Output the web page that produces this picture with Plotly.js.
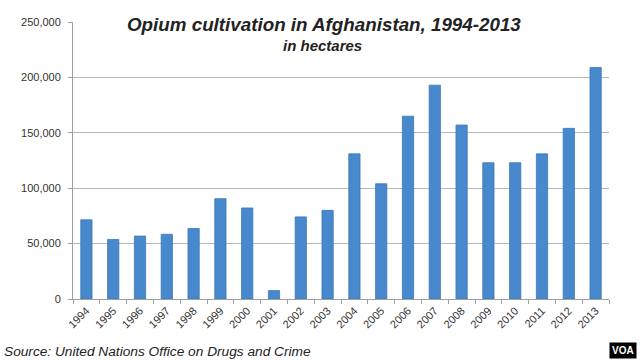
<!DOCTYPE html>
<html>
<head>
<meta charset="utf-8">
<script src="https://cdn.plot.ly/plotly-3.0.1.min.js"></script>
<style>html,body{margin:0;padding:0;background:#fff;}#chart{width:640px;height:360px;}</style>
</head>
<body>
<div id="chart"></div>
<script>
const years = ["1994","1995","1996","1997","1998","1999","2000","2001","2002","2003","2004","2005","2006","2007","2008","2009","2010","2011","2012","2013"];
const hectares = [71470,53759,56824,58416,63674,90583,82171,7606,74100,80000,131000,104000,165000,193000,157000,123000,123000,131000,154000,209000];
const yTickVals = [0,50000,100000,150000,200000,250000];
const yTickText = ["0","50,000","100,000","150,000","200,000","250,000"];

const trace = {
  type: "bar",
  x: years,
  y: hectares,
  marker: {
    color: "#4789cc",
    line: {color: "#3b78b8", width: 0.8}
  },
  hoverinfo: "x+y"
};

const layout = {
  width: 640, height: 360,
  margin: {l: 73, r: 31, t: 22, b: 61},
  paper_bgcolor: "#ffffff",
  plot_bgcolor: "#ffffff",
  showlegend: false,
  bargap: 0.58,
  font: {family: "Liberation Sans, Arial, sans-serif", color: "#333"},
  xaxis: {
    type: "category",
    tickangle: -45,
    tickfont: {size: 11, color: "#333"},
    showline: true, linecolor: "#a0a0a0", linewidth: 1,
    ticks: "outside", ticklen: 4, tickcolor: "#a0a0a0",
    tickson: "boundaries",
    showgrid: false
  },
  yaxis: {
    range: [0, 250000],
    tickvals: yTickVals,
    ticktext: yTickText,
    tickfont: {size: 11, color: "#333"},
    ticklabelstandoff: 5,
    showline: true, linecolor: "#a0a0a0", linewidth: 1,
    ticks: "outside", ticklen: 4, tickcolor: "#a0a0a0",
    showgrid: true, gridcolor: "#b8b8b8", gridwidth: 1,
    zeroline: false
  },
  annotations: [
    {
      text: "<b><i>Opium cultivation in Afghanistan, 1994-2013</i></b>",
      xref: "paper", yref: "paper", x: 0.469, y: 1.0,
      xanchor: "center", yanchor: "middle", yshift: -2,
      showarrow: false, bgcolor: "#ffffff",
      font: {size: 18.8, color: "#222", family: "Liberation Sans, Arial, sans-serif"}
    },
    {
      text: "<b><i>in hectares</i></b>",
      xref: "paper", yref: "paper", x: 0.465, y: 1.0,
      xanchor: "center", yanchor: "middle", yshift: -23,
      showarrow: false,
      font: {size: 15, color: "#222", family: "Liberation Sans, Arial, sans-serif"}
    },
    {
      text: "<i>Source: United Nations Office on Drugs and Crime</i>",
      xref: "paper", yref: "paper", x: 0, y: 0,
      xanchor: "left", yanchor: "middle", xshift: -71, yshift: -52,
      showarrow: false,
      font: {size: 13.7, color: "#222", family: "Liberation Sans, Arial, sans-serif"}
    },
    {
      text: "<b>VOA</b>",
      xref: "paper", yref: "paper", x: 1, y: 0,
      xanchor: "right", yanchor: "middle", xshift: 28, yshift: -51,
      showarrow: false, bgcolor: "#000000", borderpad: 2,
      font: {size: 10, color: "#ffffff", family: "Liberation Sans, Arial, sans-serif"}
    }
  ]
};

Plotly.newPlot("chart", [trace], layout, {displayModeBar: false, staticPlot: true});
</script>
</body>
</html>
